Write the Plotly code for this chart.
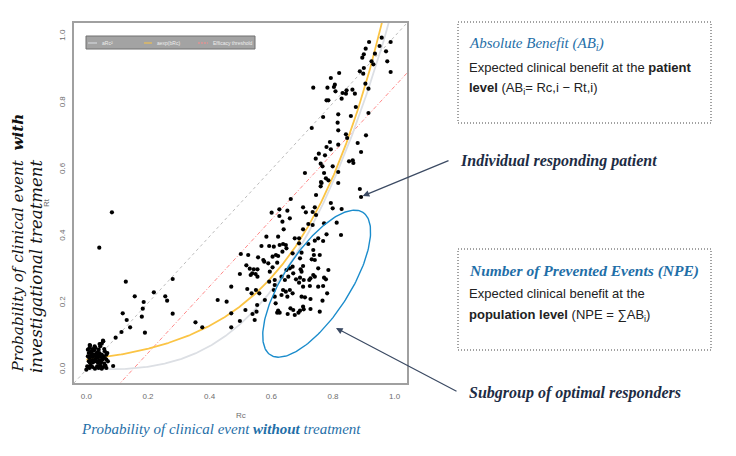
import numpy as np
import plotly.graph_objects as go

# ---------------- data ----------------
# Patients: probability of event without treatment (Rc) and with treatment (Rt)
rc_low = [0.005,0.010,0.012,0.008,0.015,0.020,0.025,0.030,0.035,0.040,0.045,0.050,0.055,0.060,0.065,
          0.005,0.010,0.015,0.020,0.025,0.030,0.035,0.040,0.045,0.050,0.055,0.060,0.065,0.070,
          0.008,0.012,0.018,0.022,0.028,0.032,0.038,0.042,0.048,0.052,0.058,0.062,
          0.003,0.010,0.015,0.020,0.028,0.035,0.040,0.045,0.050,0.055,0.065,0.000,0.018,0.033,0.042,0.027,0.058,0.068]
rt_low = [0.060,0.065,0.072,0.050,0.055,0.062,0.058,0.065,0.052,0.060,0.070,0.078,0.085,0.055,0.045,
          0.040,0.035,0.042,0.038,0.045,0.040,0.035,0.042,0.038,0.045,0.040,0.035,0.030,0.025,
          0.025,0.020,0.028,0.022,0.030,0.025,0.020,0.028,0.022,0.030,0.018,0.012,
          0.010,0.005,0.012,0.008,0.003,0.010,0.005,0.012,0.003,0.008,0.005,0.000,0.048,0.048,0.050,0.070,0.062,0.050]

rc_scatter = [0.083,0.042,0.128,0.280,0.157,0.219,0.186,0.256,0.262,0.183,0.118,0.180,0.280,0.131,0.142,
              0.114,0.190,0.095,0.054,0.011,0.043,0.087,
              0.354,0.376,0.426,0.455,0.470,0.470,0.470,0.498,0.498,0.516,0.522]
rt_scatter = [0.472,0.366,0.264,0.272,0.220,0.232,0.203,0.220,0.207,0.183,0.169,0.159,0.168,0.149,0.127,
              0.113,0.111,0.096,0.087,0.074,0.077,0.011,
              0.142,0.127,0.209,0.204,0.169,0.127,0.249,0.146,0.287,0.179,0.242]

rc_mid = [0.501,0.525,0.519,0.530,0.538,0.549,0.543,0.555,0.557,0.568,0.574,0.577,0.593,0.590,0.604,0.608,
          0.619,0.622,0.627,0.638,0.647,0.649,0.636,0.615,0.604,0.595,0.555,0.533,0.550,0.536,0.561,0.579,
          0.554,0.552,0.539,0.546,0.593,0.611,0.611,0.608,0.633,0.644,0.655,0.660,0.669,0.649,0.638,0.647,
          0.660,0.633,0.652,0.669,0.611,0.614,0.622,0.619,0.627,0.662,0.671,0.676,0.653,0.669,0.671,0.680,
          0.663,0.601,0.626,0.652,0.626,0.660,0.636,0.640,0.584,0.622,0.676]
rt_mid = [0.347,0.344,0.313,0.303,0.289,0.287,0.301,0.301,0.337,0.371,0.329,0.324,0.371,0.319,0.339,0.369,
          0.321,0.341,0.374,0.377,0.374,0.364,0.354,0.344,0.307,0.294,0.279,0.284,0.239,0.229,0.229,0.209,
          0.194,0.174,0.167,0.149,0.264,0.269,0.254,0.239,0.279,0.269,0.279,0.304,0.309,0.299,0.239,0.234,
          0.239,0.224,0.219,0.229,0.219,0.199,0.177,0.171,0.171,0.184,0.179,0.164,0.167,0.349,0.289,0.271,
          0.512,0.471,0.481,0.477,0.461,0.454,0.444,0.421,0.399,0.399,0.394]

rc_right = [0.887,0.891,0.817,0.760,0.763,0.745,0.793,0.799,0.828,0.703,0.712,0.734,0.741,0.745,0.812,0.771,
            0.720,0.734,0.703,0.826,0.779,0.752,0.768,0.741,0.690,0.690,0.720,0.736,0.698,0.738,0.757,0.731,
            0.741,0.693,0.703,0.695,0.752,0.785,0.698,0.736,0.741,0.727,0.771,0.777,0.693,0.705,0.723,0.690,
            0.703,0.725,0.752,0.768,0.781,0.698,0.709,0.727,0.766,0.703,0.705,0.727,0.693,0.688,0.757]
rt_right = [0.542,0.518,0.560,0.550,0.560,0.524,0.500,0.484,0.482,0.487,0.472,0.473,0.487,0.464,0.441,0.439,
            0.437,0.434,0.421,0.404,0.406,0.394,0.386,0.387,0.394,0.379,0.377,0.359,0.351,0.344,0.344,0.331,
            0.329,0.334,0.311,0.301,0.304,0.299,0.294,0.284,0.279,0.274,0.276,0.271,0.276,0.269,0.269,0.261,
            0.249,0.251,0.249,0.251,0.229,0.219,0.217,0.212,0.207,0.189,0.181,0.182,0.177,0.171,0.174]

rc_top = [0.958,0.987,0.917,0.951,0.906,0.972,0.936,0.900,0.895,0.925,0.931,0.976,0.900,0.887,0.898,0.987,
          0.820,0.793,0.905,0.806,0.803,0.782,0.736,0.915,0.863,0.831,0.844,0.842,0.808,0.871,0.828,0.779,
          0.785,0.874,0.817,0.915,0.768,0.858,0.815,0.731,0.817,0.842,0.907,0.846,0.790,0.817,0.880,0.779,
          0.793,0.891,0.754,0.774,0.744,0.852,0.864,0.866,0.760,0.766,0.799,0.709,0.771,0.817,0.777,0.785,0.761]
rt_top = [0.996,0.983,0.983,0.971,0.963,0.955,0.948,0.946,0.936,0.925,0.916,0.925,0.905,0.895,0.888,0.893,
          0.890,0.875,0.858,0.855,0.848,0.846,0.846,0.843,0.840,0.830,0.838,0.828,0.835,0.828,0.813,0.808,
          0.808,0.788,0.766,0.770,0.758,0.761,0.741,0.725,0.718,0.706,0.703,0.695,0.683,0.675,0.680,0.668,
          0.661,0.653,0.648,0.643,0.633,0.625,0.628,0.620,0.618,0.610,0.610,0.590,0.590,0.593,0.574,0.568,0.563]

rc = rc_low + rc_scatter + rc_mid + rc_right + rc_top
rt = rt_low + rt_scatter + rt_mid + rt_right + rt_top

# Model curve parameters
POW_A, POW_B = 1.1, 3.0          # a*Rc^b (grey)
EXP_A, EXP_B = 0.03, 3.7         # a*exp(b*Rc) (orange)
THRESHOLD = 0.15                 # efficacy threshold offset

x_ticks = [0.0, 0.2, 0.4, 0.6, 0.8, 1.0]
tick_text = ["0.0", "0.2", "0.4", "0.6", "0.8", "1.0"]

# Ellipse (subgroup of optimal responders), centre in data units
ELL_RC, ELL_RT = 0.747, 0.258

# ---------------- geometry ----------------
W, H = 736, 456
PL, PR, PT, PB = 74, 407, 23, 383
RNG = [-0.04, 1.04]

def px(x):
    return (x - PL) / (PR - PL)

def py(y):
    return (PB - y) / (PB - PT)

x_ppu = (PR - PL) / (RNG[1] - RNG[0])
y_ppu = (PB - PT) / (RNG[1] - RNG[0])

fig = go.Figure()

xx = np.linspace(0, 1.1, 400)
# identity line
fig.add_trace(go.Scatter(x=[RNG[0], RNG[1]], y=[RNG[0], RNG[1]], mode="lines",
                         line=dict(color="#bdbdbd", width=1, dash="dot"), hoverinfo="skip"))
# efficacy threshold
fig.add_trace(go.Scatter(x=[RNG[0], RNG[1]], y=[RNG[0] - THRESHOLD, RNG[1] - THRESHOLD], mode="lines",
                         line=dict(color="#ff8a8a", width=1, dash="4px,2px,1px,2px"), hoverinfo="skip"))
# grey curve
fig.add_trace(go.Scatter(x=xx, y=POW_A * xx ** POW_B, mode="lines",
                         line=dict(color="#dcdfe4", width=1.8), hoverinfo="skip"))
# orange curve
fig.add_trace(go.Scatter(x=xx, y=EXP_A * np.exp(EXP_B * xx), mode="lines",
                         line=dict(color="#fbc444", width=1.8), hoverinfo="skip"))
# patients
fig.add_trace(go.Scatter(x=rc, y=rt, mode="markers",
                         marker=dict(color="black", size=4.2), hoverinfo="skip"))
# ellipse
A_PX, B_PX, THETA = 85, 33, np.deg2rad(57)
t = np.linspace(0, 2 * np.pi, 200)
ex = A_PX * np.cos(t) * np.cos(THETA) - B_PX * np.sin(t) * np.sin(THETA)
ey = A_PX * np.cos(t) * np.sin(THETA) + B_PX * np.sin(t) * np.cos(THETA)
fig.add_trace(go.Scatter(x=ELL_RC + ex / x_ppu, y=ELL_RT + ey / y_ppu, mode="lines",
                         line=dict(color="#1a8ccc", width=1.4), hoverinfo="skip"))

axis_common = dict(range=RNG, showgrid=False, zeroline=False, showline=True, mirror=True,
                   linecolor="#a0a0a0", linewidth=1.5, tickvals=x_ticks, ticktext=tick_text,
                   ticks="outside", tickcolor="rgba(0,0,0,0)",
                   tickfont=dict(family="Liberation Sans", size=8, color="#6e6e6e"))

fig.update_layout(
    width=W, height=H, autosize=False,
    margin=dict(l=PL, r=W - PR, t=PT, b=H - PB),
    paper_bgcolor="white", plot_bgcolor="white", showlegend=False,
    xaxis=dict(**axis_common, ticklen=5),
    yaxis=dict(**axis_common, ticklen=4, tickangle=-90),
)

serif = "Liberation Serif"
wserif = "DejaVu Serif"
sans = "Liberation Sans"
blue = "#1f6fa8"
navy = "#1d2c44"

ann = []
def text(x, y, s, size, color, family=serif, style="normal", xanchor="left", angle=0, yanchor="middle", align="left"):
    ann.append(dict(x=px(x), y=py(y), xref="paper", yref="paper", text=s, showarrow=False,
                    xanchor=xanchor, yanchor=yanchor, textangle=angle, align=align,
                    font=dict(family=family, size=size, color=color, style=style)))

# small axis titles
text(240.5, 416, "Rc", 8, "#6e6e6e", family="Liberation Sans", xanchor="center")
text(46, 203, "Rt", 8, "#6e6e6e", family="Liberation Sans", xanchor="center", angle=-90)

# big axis labels
text(220.5, 429, "Probability of clinical event <b>without</b> treatment", 15, blue, style="italic", xanchor="center")
text(17, 375, "Probability of clinical event  <b>with</b>", 15.2, "#111111", family=wserif,
     style="italic", xanchor="center", yanchor="bottom", angle=-90)
text(36, 375, "investigational treatment", 16.6, "#111111", family=wserif,
     style="italic", xanchor="center", yanchor="bottom", angle=-90)

# box 1
text(467, 44, "Absolute Benefit (AB<sub>i</sub>)", 15, blue, style="italic")
text(467, 67, "Expected clinical benefit at the <b>patient</b>", 13, "#222222", family=sans)
text(467, 88, "<b>level</b> (AB<sub>i</sub>= Rc,i \u2212 Rt,i)", 13, "#222222", family=sans)
# box 2
text(467, 271, "<b>Number of Prevented Events (NPE)</b>", 15.5, blue, style="italic")
text(467, 293, "Expected clinical benefit at the", 13, "#222222", family=sans)
text(467, 315, "<b>population level</b> (NPE = \u2211AB<sub>i</sub>)", 13, "#222222", family=sans)

# callouts
text(458, 161, "<b>Individual responding patient</b>", 16, navy, style="italic")
text(467, 393, "<b>Subgroup of optimal responders</b>", 16, navy, style="italic")

# legend texts
text(100, 43, "aRc\u00b2", 5, "#eeeeee", family="Liberation Sans")
text(155, 43, "aexp(bRc)", 5, "#eeeeee", family="Liberation Sans")
text(211, 43, "Efficacy threshold", 5, "#eeeeee", family="Liberation Sans")

# arrows
ann.append(dict(x=px(362.7), y=py(196), xref="paper", yref="paper", ax=450 - 362.7, ay=160 - 196,
                showarrow=True, arrowhead=2, arrowsize=1.1, arrowwidth=1.2, arrowcolor="#3b4a63", text=""))
ann.append(dict(x=px(336), y=py(328), xref="paper", yref="paper", ax=458 - 336, ay=392 - 328,
                showarrow=True, arrowhead=2, arrowsize=1.1, arrowwidth=1.2, arrowcolor="#3b4a63", text=""))

fig.update_layout(annotations=ann)

shapes = []
def rect(x0, y0, x1, y1, **kw):
    shapes.append(dict(type="rect", xref="paper", yref="paper", x0=px(x0), x1=px(x1), y0=py(y1), y1=py(y0), **kw))
def seg(x0, y0, x1, y1, **kw):
    shapes.append(dict(type="line", xref="paper", yref="paper", x0=px(x0), x1=px(x1), y0=py(y0), y1=py(y1), **kw))

rect(458, 22, 711, 123, line=dict(color="#444444", width=1, dash="1px,2px"))
rect(458, 249, 711, 350, line=dict(color="#444444", width=1, dash="1px,2px"))
# legend box
rect(86, 36, 255, 49, fillcolor="#a3a3a3", line=dict(color="#707070", width=1))
seg(88, 43, 97, 43, line=dict(color="#dcdfe4", width=1))
seg(144, 43, 152, 43, line=dict(color="#fbc444", width=1))
seg(198, 43, 208, 43, line=dict(color="#ff8a8a", width=1, dash="2px,1px"))

fig.update_layout(shapes=shapes)

fig.write_html("out.html", config={"displayModeBar": False},
               post_script="document.body.style.margin='0px';")
